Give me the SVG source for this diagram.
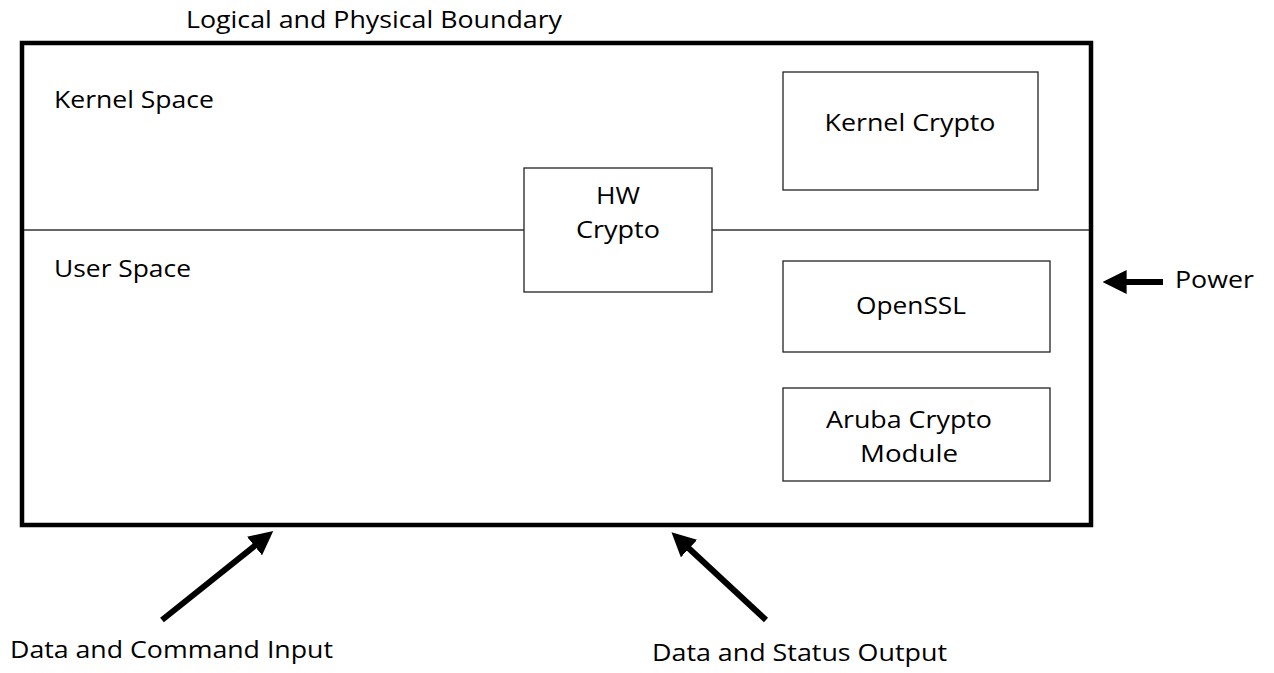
<svg xmlns="http://www.w3.org/2000/svg" width="1274" height="673" viewBox="0 0 1274 673">
<style>
text{font-family:"Open Sans","Liberation Sans",sans-serif;font-size:23px;fill:#000}
.box{fill:#fff;stroke:#222;stroke-width:1.3}
.arrow{stroke:#000;stroke-width:6;fill:none}
</style>
<defs>
<marker id="ah" markerWidth="4" markerHeight="4" refX="1.6" refY="2" orient="auto" markerUnits="strokeWidth">
<path d="M0,0 L4,2 L0,4 Z" fill="#000"/>
</marker>
</defs>
<rect width="1274" height="673" fill="#fff"/>
<g id="boundary">
<rect x="22" y="43" width="1069" height="482" fill="none" stroke="#000" stroke-width="4.5"/>
<text x="186" y="28" textLength="376" lengthAdjust="spacingAndGlyphs">Logical and Physical Boundary</text>
</g>
<g id="divider">
<line x1="24" y1="230" x2="524" y2="230" stroke="#333" stroke-width="1.3"/>
<line x1="712" y1="230" x2="1089" y2="230" stroke="#333" stroke-width="1.3"/>
<text x="54" y="108" textLength="160" lengthAdjust="spacingAndGlyphs">Kernel Space</text>
<text x="54" y="277" textLength="137" lengthAdjust="spacingAndGlyphs">User Space</text>
</g>
<g id="hw-crypto">
<rect class="box" x="524" y="168" width="188" height="124"/>
<text x="618" y="204" text-anchor="middle" textLength="44" lengthAdjust="spacingAndGlyphs">HW</text>
<text x="618" y="238" text-anchor="middle" textLength="84" lengthAdjust="spacingAndGlyphs">Crypto</text>
</g>
<g id="kernel-crypto">
<rect class="box" x="783" y="72" width="255" height="118"/>
<text x="910" y="131" text-anchor="middle" textLength="171" lengthAdjust="spacingAndGlyphs">Kernel Crypto</text>
</g>
<g id="openssl">
<rect class="box" x="783" y="261" width="267" height="91"/>
<text x="911" y="314" text-anchor="middle" textLength="110" lengthAdjust="spacingAndGlyphs">OpenSSL</text>
</g>
<g id="aruba">
<rect class="box" x="783" y="388" width="267" height="93"/>
<text x="909" y="428" text-anchor="middle" textLength="166" lengthAdjust="spacingAndGlyphs">Aruba Crypto</text>
<text x="909" y="462" text-anchor="middle" textLength="98" lengthAdjust="spacingAndGlyphs">Module</text>
</g>
<g id="connectors">
<line class="arrow" x1="1163" y1="282" x2="1117" y2="282" marker-end="url(#ah)"/>
<line class="arrow" x1="162" y1="620" x2="262" y2="540" marker-end="url(#ah)"/>
<line class="arrow" x1="766" y1="620" x2="682" y2="542" marker-end="url(#ah)"/>
</g>
<g id="labels">
<text x="1175" y="288" textLength="79" lengthAdjust="spacingAndGlyphs">Power</text>
<text x="10" y="658" textLength="323" lengthAdjust="spacingAndGlyphs">Data and Command Input</text>
<text x="652" y="661" textLength="295" lengthAdjust="spacingAndGlyphs">Data and Status Output</text>
</g>
</svg>
